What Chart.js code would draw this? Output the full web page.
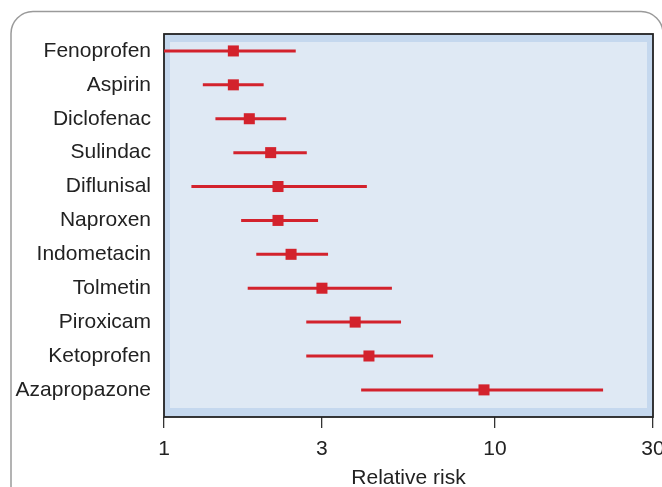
<!DOCTYPE html>
<html>
<head>
<meta charset="utf-8">
<script src="https://cdn.jsdelivr.net/npm/chart.js@4/dist/chart.umd.min.js"></script>
<style>
  html, body { margin: 0; padding: 0; background: #ffffff; }
  #wrap { width: 662px; height: 487px; }
</style>
</head>
<body>
<div id="wrap"><canvas id="c" width="662" height="487"></canvas></div>
<script>
const drugs = ["Fenoprofen", "Aspirin", "Diclofenac", "Sulindac", "Diflunisal", "Naproxen",
               "Indometacin", "Tolmetin", "Piroxicam", "Ketoprofen", "Azapropazone"];
const relativeRisk = [1.62, 1.62, 1.81, 2.10, 2.21, 2.21, 2.42, 3.00, 3.78, 4.16, 9.26];
const ciLow  = [1.00, 1.31, 1.43, 1.62, 1.21, 1.71, 1.90, 1.79, 2.69, 2.69, 3.94];
const ciHigh = [2.50, 2.00, 2.34, 2.70, 4.10, 2.92, 3.13, 4.88, 5.20, 6.50, 21.2];
const xTicks = [1, 3, 10, 30];

const RED = '#d3222c';
const FONT = "'Liberation Sans', Arial, Helvetica, sans-serif";

const errorSets = drugs.map((d, i) => ({
  label: d + ' CI',
  data: [{x: ciLow[i], y: i}, {x: ciHigh[i], y: i}],
  showLine: true,
  borderColor: RED,
  borderWidth: 3,
  pointRadius: 0,
  borderCapStyle: 'butt',
  order: 2
}));

const pointSet = {
  label: 'Relative risk',
  data: drugs.map((d, i) => ({x: relativeRisk[i], y: i})),
  pointStyle: 'rect',
  pointRadius: 7.8,
  pointHoverRadius: 7.8,
  backgroundColor: RED,
  borderWidth: 0,
  order: 1
};

const frame = {
  id: 'frame',
  beforeDraw(chart) {
    const ctx = chart.ctx;
    ctx.save();
    ctx.strokeStyle = '#9a9a9a';
    ctx.lineWidth = 1.5;
    const x0 = 11, y0 = 11.5, x1 = 663, y1 = 520, r = 22;
    ctx.beginPath();
    ctx.moveTo(x0, y1);
    ctx.lineTo(x0, y0 + r);
    ctx.arcTo(x0, y0, x0 + r, y0, r);
    ctx.lineTo(x1 - r, y0);
    ctx.arcTo(x1, y0, x1, y0 + r, r);
    ctx.lineTo(x1, y1);
    ctx.stroke();
    ctx.restore();
  },
  beforeDatasetsDraw(chart) {
    const {ctx, chartArea: a} = chart;
    ctx.save();
    ctx.fillStyle = '#c5d8ee';
    ctx.fillRect(a.left, a.top, a.right - a.left, a.bottom - a.top);
    ctx.fillStyle = '#dfe9f4';
    ctx.fillRect(a.left + 6, a.top + 8, a.right - a.left - 12, a.bottom - a.top - 17);
    ctx.strokeStyle = '#222222';
    ctx.lineWidth = 1.8;
    ctx.strokeRect(a.left, a.top, a.right - a.left, a.bottom - a.top);
    ctx.restore();
  }
};

new Chart(document.getElementById('c'), {
  type: 'scatter',
  data: { datasets: [...errorSets, pointSet] },
  options: {
    responsive: false,
    animation: false,
    events: [],
    layout: { padding: { top: 34, right: 9, left: 0, bottom: 0 } },
    plugins: { legend: { display: false }, tooltip: { enabled: false } },
    scales: {
      x: {
        type: 'logarithmic',
        min: 1,
        max: 30,
        afterBuildTicks(scale) { scale.ticks = xTicks.map(v => ({value: v})); },
        afterFit(scale) { scale.height = 70; scale.paddingLeft = 0; scale.paddingRight = 0; },
        ticks: {
          callback: (v) => String(v),
          color: '#222222',
          font: { family: FONT, size: 21 },
          padding: 9,
          maxRotation: 0
        },
        grid: { drawOnChartArea: false, drawTicks: true, tickLength: 11, tickColor: '#333333', lineWidth: 1.3 },
        border: { display: false },
        title: {
          display: true,
          text: 'Relative risk',
          color: '#222222',
          font: { family: FONT, size: 21 },
          padding: { top: 0, bottom: -4 }
        }
      },
      y: {
        type: 'linear',
        reverse: true,
        min: -0.5,
        max: 10.8,
        afterBuildTicks(scale) { scale.ticks = drugs.map((d, i) => ({value: i})); },
        afterFit(scale) { scale.width = 164; scale.paddingTop = 0; scale.paddingBottom = 0; },
        ticks: {
          callback: (v) => drugs[v] !== undefined ? drugs[v] : '',
          color: '#222222',
          font: { family: FONT, size: 21 },
          padding: 13,
          autoSkip: false
        },
        grid: { display: false, drawTicks: false },
        border: { display: false }
      }
    }
  },
  plugins: [frame]
});
</script>
</body>
</html>
